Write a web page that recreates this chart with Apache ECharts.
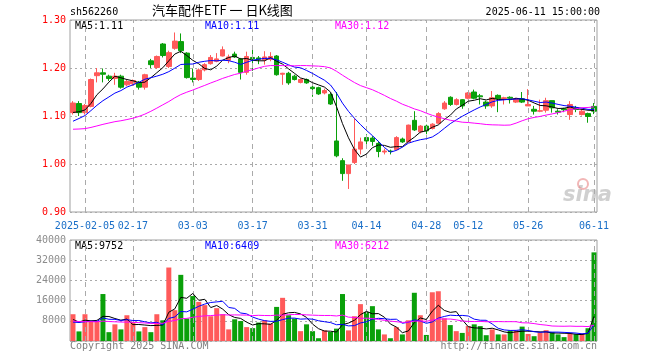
<!DOCTYPE html>
<html><head><meta charset="utf-8">
<script src="https://cdn.jsdelivr.net/npm/echarts@6/dist/echarts.min.js"></script>
<style>html,body{margin:0;padding:0;background:#fff}#c{width:660px;height:360px}</style>
</head><body><div id="c"></div>
<script>
const dates = ['2025-01-24','2025-01-27','2025-02-05','2025-02-06','2025-02-07','2025-02-10','2025-02-11','2025-02-12','2025-02-13','2025-02-14',
'2025-02-17','2025-02-18','2025-02-19','2025-02-20','2025-02-21','2025-02-24','2025-02-25','2025-02-26','2025-02-27','2025-02-28',
'2025-03-03','2025-03-04','2025-03-05','2025-03-06','2025-03-07','2025-03-10','2025-03-11','2025-03-12','2025-03-13','2025-03-14',
'2025-03-17','2025-03-18','2025-03-19','2025-03-20','2025-03-21','2025-03-24','2025-03-25','2025-03-26','2025-03-27','2025-03-28',
'2025-03-31','2025-04-01','2025-04-02','2025-04-03','2025-04-07','2025-04-08','2025-04-09','2025-04-10','2025-04-11','2025-04-14',
'2025-04-15','2025-04-16','2025-04-17','2025-04-18','2025-04-21','2025-04-22','2025-04-23','2025-04-24','2025-04-25','2025-04-28',
'2025-04-29','2025-04-30','2025-05-06','2025-05-07','2025-05-08','2025-05-09','2025-05-12','2025-05-13','2025-05-14','2025-05-15',
'2025-05-16','2025-05-19','2025-05-20','2025-05-21','2025-05-22','2025-05-23','2025-05-26','2025-05-27','2025-05-28','2025-05-29',
'2025-05-30','2025-06-03','2025-06-04','2025-06-05','2025-06-06','2025-06-09','2025-06-10','2025-06-11'];
const labelDates = ['2025-02-05','2025-02-17','2025-03-03','2025-03-17','2025-03-31','2025-04-14','2025-04-28','2025-05-12','2025-05-26','2025-06-11'];

const opens = [1.107,1.126,1.107,1.120,1.184,1.190,1.183,1.178,1.183,1.165,
1.167,1.170,1.160,1.215,1.201,1.250,1.203,1.241,1.255,1.231,
1.179,1.176,1.196,1.209,1.214,1.225,1.216,1.229,1.219,1.191,
1.222,1.221,1.217,1.218,1.225,1.187,1.189,1.183,1.170,1.176,
1.160,1.159,1.148,1.145,1.048,1.007,0.980,1.003,1.031,1.055,
1.054,1.043,1.025,1.027,1.030,1.052,1.046,1.091,1.067,1.079,
1.074,1.085,1.115,1.139,1.124,1.134,1.137,1.150,1.142,1.129,
1.121,1.143,1.136,1.139,1.129,1.136,1.121,1.114,1.110,1.112,
1.132,1.110,1.115,1.103,1.117,1.103,1.105,1.120];
const closes = [1.127,1.107,1.122,1.176,1.190,1.187,1.178,1.183,1.160,1.172,
1.174,1.160,1.186,1.207,1.224,1.226,1.232,1.256,1.236,1.180,
1.176,1.196,1.207,1.222,1.219,1.238,1.223,1.223,1.191,1.224,
1.219,1.218,1.223,1.224,1.186,1.189,1.169,1.176,1.176,1.169,
1.157,1.146,1.153,1.125,1.017,0.980,0.998,1.031,1.046,1.048,
1.047,1.026,1.027,1.026,1.055,1.046,1.081,1.071,1.079,1.069,
1.083,1.105,1.127,1.124,1.134,1.121,1.148,1.137,1.140,1.121,
1.138,1.136,1.138,1.137,1.136,1.129,1.124,1.110,1.111,1.132,
1.117,1.108,1.113,1.124,1.114,1.110,1.099,1.110];
const lows = [1.103,1.100,1.103,1.118,1.170,1.170,1.173,1.165,1.157,1.162,
1.163,1.155,1.155,1.200,1.198,1.222,1.200,1.238,1.231,1.178,
1.170,1.173,1.193,1.207,1.212,1.224,1.210,1.221,1.176,1.186,
1.194,1.208,1.207,1.214,1.184,1.165,1.165,1.174,1.168,1.167,
1.140,1.144,1.145,1.123,1.014,0.965,0.948,1.000,1.020,1.041,
1.038,1.014,1.020,1.020,1.028,1.044,1.045,1.069,1.064,1.062,
1.072,1.083,1.113,1.121,1.122,1.115,1.135,1.135,1.124,1.115,
1.117,1.108,1.124,1.126,1.127,1.127,1.121,1.103,1.108,1.107,
1.107,1.103,1.108,1.092,1.108,1.101,1.086,1.104];
const highs = [1.131,1.131,1.125,1.178,1.200,1.199,1.186,1.190,1.186,1.176,
1.176,1.173,1.188,1.219,1.226,1.252,1.236,1.274,1.272,1.233,
1.199,1.199,1.210,1.227,1.231,1.245,1.228,1.234,1.221,1.234,
1.245,1.225,1.235,1.233,1.227,1.190,1.192,1.186,1.178,1.178,
1.163,1.161,1.157,1.148,1.150,1.012,0.998,1.095,1.055,1.062,
1.058,1.048,1.032,1.030,1.058,1.055,1.082,1.110,1.081,1.082,
1.085,1.108,1.131,1.141,1.137,1.135,1.150,1.155,1.146,1.132,
1.152,1.145,1.140,1.141,1.138,1.150,1.156,1.121,1.134,1.138,
1.132,1.114,1.117,1.131,1.121,1.114,1.107,1.127];
const volumes = [10600,3800,10600,7900,7900,18600,3500,6600,4600,10200,
7500,3800,5500,3500,10600,8200,29100,12200,26200,8900,
17800,15500,14200,9800,13000,10600,4600,8600,7900,5500,
5100,7300,8200,6900,13500,17100,10200,8900,3900,6600,
3900,1100,4200,3600,4900,18600,4200,9800,14600,11500,
13800,4600,2600,1100,5500,2600,8200,19100,10200,2400,
19300,19700,9000,6300,3900,3200,5900,6600,5900,2300,
4600,2600,2600,4200,4200,5700,2800,1900,3400,4300,
3500,2600,1530,3000,2700,2900,5060,35100];
// closes / volumes before the first visible day (only feed the moving averages at the left edge)
const priorCloses = [1.092,1.098,1.101,1.096,1.089,1.094,1.099,1.103,1.097,1.091,
1.048,1.040,1.031,1.025,1.019,1.028,1.022,1.035,1.030,1.042,
1.050,1.061,1.072,1.080,1.091,1.100,1.103,1.108,1.099];
const priorVolumes = [9800,11200,8700,9500,10400,8200,9900,7600,10800,9100,
8400,9700,8800,10100,7200,4200,5100,3900,4800,4500,
5600,7400,6100,8200,5200,8800,6900,9100,7100];
const priceLegend = ['MA5:1.11','MA10:1.11','MA30:1.12'];
const volLegend = ['MA5:9752','MA10:6409','MA30:6212'];
const priceTicks = [0.9, 1.3, 0.1];
const volTicks = [0, 40000, 8000];

const UP = '#ff5a5a', DOWN = '#0aa00a';
const MONO = '"DejaVu Sans Mono", "Liberation Mono", monospace';

function movingAvg(n, arr, prior) {
  const all = prior.concat(arr), off = prior.length, out = [];
  for (let i = 0; i < arr.length; i++) {
    const end = off + i; let s = 0, c = 0;
    for (let k = end - n + 1; k <= end; k++) { if (k >= 0) { s += all[k]; c++; } }
    out.push(+(s / c).toFixed(4));
  }
  return out;
}
const kData = dates.map((d, i) => [opens[i], closes[i], lows[i], highs[i]]);
const isUp = dates.map((d, i) => closes[i] >= opens[i]);

const vLines = labelDates.map(d => ({ xAxis: d }));
const markLineStyle = {
  silent: true, symbol: ['none', 'none'], label: { show: false }, animation: false,
  lineStyle: { color: '#aaaaaa', type: [5, 4], width: 1 }, data: vLines
};

function lineSeries(name, data, color, xi) {
  return { name, type: 'line', data, xAxisIndex: xi, yAxisIndex: xi, showSymbol: false, symbol: 'none',
    lineStyle: { color, width: 1 }, itemStyle: { color }, z: 5, animation: false, silent: true };
}

const chart = echarts.init(document.getElementById('c'), null, { renderer: 'canvas' });
const G = { left: 70, width: 527 };
chart.setOption({
  animation: false,
  backgroundColor: '#ffffff',
  grid: [
    { left: G.left, width: G.width, top: 20, height: 192, show: true, borderColor: '#a0a0a0', borderWidth: 1, backgroundColor: 'transparent' },
    { left: G.left, width: G.width, top: 240, height: 101, show: true, borderColor: '#a0a0a0', borderWidth: 1, backgroundColor: 'transparent' }
  ],
  xAxis: [
    { type: 'category', data: dates, gridIndex: 0, boundaryGap: true,
      axisLine: { show: false }, axisTick: { show: false }, splitLine: { show: false },
      axisLabel: { interval: (i, v) => labelDates.indexOf(v) >= 0, color: '#1a6fc8', fontFamily: MONO, fontSize: 10, margin: 9,
        formatter: (v) => v === labelDates[0] ? v : v.slice(5) } },
    { type: 'category', data: dates, gridIndex: 1, boundaryGap: true,
      axisLine: { show: false }, axisTick: { show: false }, splitLine: { show: false }, axisLabel: { show: false } }
  ],
  yAxis: [
    { type: 'value', gridIndex: 0, min: priceTicks[0], max: priceTicks[1], interval: priceTicks[2],
      axisLine: { show: false }, axisTick: { show: false },
      splitLine: { show: true, lineStyle: { color: '#aaaaaa', type: [2, 3] } },
      axisLabel: { color: '#ff0000', fontFamily: MONO, fontSize: 10, margin: 4, formatter: v => v.toFixed(2) } },
    { type: 'value', gridIndex: 1, min: volTicks[0], max: volTicks[1], interval: volTicks[2],
      axisLine: { show: false }, axisTick: { show: false },
      splitLine: { show: true, lineStyle: { color: '#aaaaaa', type: [2, 3] } },
      axisLabel: { color: '#8c8c8c', fontFamily: MONO, fontSize: 10, margin: 4, formatter: v => v === 0 ? '' : String(v) } }
  ],
  series: [
    { type: 'candlestick', data: kData, xAxisIndex: 0, yAxisIndex: 0, barWidth: 5,
      itemStyle: { color: UP, color0: DOWN, borderColor: UP, borderColor0: DOWN, borderWidth: 1 },
      markLine: markLineStyle, z: 3, silent: true },
    lineSeries('MA5', movingAvg(5, closes, priorCloses), '#000000', 0),
    lineSeries('MA10', movingAvg(10, closes, priorCloses), '#0000ff', 0),
    lineSeries('MA30', movingAvg(30, closes, priorCloses), '#ff00ff', 0),
    { type: 'bar', xAxisIndex: 1, yAxisIndex: 1, barWidth: 5, silent: true,
      data: volumes.map((v, i) => ({ value: v, itemStyle: { color: isUp[i] ? UP : DOWN } })),
      markLine: markLineStyle, z: 3 },
    lineSeries('VMA5', movingAvg(5, volumes, priorVolumes), '#000000', 1),
    lineSeries('VMA10', movingAvg(10, volumes, priorVolumes), '#0000ff', 1),
    lineSeries('VMA30', movingAvg(30, volumes, priorVolumes), '#ff00ff', 1)
  ],
  graphic: [
    { type: 'text', left: 70, top: 7, style: { text: 'sh562260', font: '10px ' + MONO, fill: '#000' } },
    { type: 'text', left: 152, top: 4, style: { text: '汽车配件ETF 一 日K线图', font: '13px "Noto Sans CJK SC"', fill: '#000' } },
    { type: 'text', right: 60, top: 7, style: { text: '2025-06-11 15:00:00', font: '10px ' + MONO, fill: '#000' } },
    { type: 'text', left: 75, top: 21, style: { text: priceLegend[0], font: '10px ' + MONO, fill: '#000' } },
    { type: 'text', left: 205, top: 21, style: { text: priceLegend[1], font: '10px ' + MONO, fill: '#0000ff' } },
    { type: 'text', left: 335, top: 21, style: { text: priceLegend[2], font: '10px ' + MONO, fill: '#ff00ff' } },
    { type: 'text', left: 75, top: 241, style: { text: volLegend[0], font: '10px ' + MONO, fill: '#000' } },
    { type: 'text', left: 205, top: 241, style: { text: volLegend[1], font: '10px ' + MONO, fill: '#0000ff' } },
    { type: 'text', left: 335, top: 241, style: { text: volLegend[2], font: '10px ' + MONO, fill: '#ff00ff' } },
    { type: 'text', left: 70, top: 341, style: { text: 'Copyright 2025 SINA.COM', font: '10px ' + MONO, fill: '#808080' } },
    { type: 'text', right: 63, top: 341, style: { text: 'http://finance.sina.com.cn', font: '10px ' + MONO, fill: '#808080' } },
    { type: 'text', left: 563, top: 185, z: 0, style: { text: 'sina', font: 'italic bold 21px "DejaVu Sans"', fill: 'rgba(170,170,170,0.55)' } },
    { type: 'circle', shape: { cx: 583, cy: 184, r: 5 }, z: 0, style: { fill: 'none', stroke: 'rgba(230,110,110,0.5)', lineWidth: 2 } }
  ]
});
</script></body></html>
